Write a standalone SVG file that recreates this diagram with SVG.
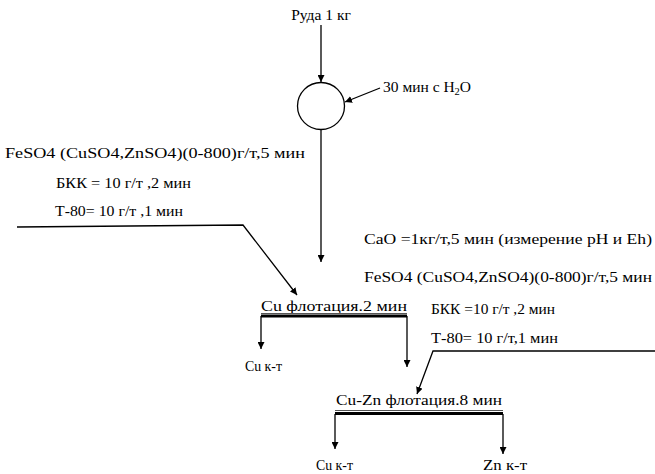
<svg xmlns="http://www.w3.org/2000/svg" width="655" height="474" viewBox="0 0 655 474">
<defs>
<marker id="ah" viewBox="0 0 10 10" refX="10" refY="5" markerWidth="7" markerHeight="7" markerUnits="userSpaceOnUse" orient="auto">
<path d="M0,0 L10,5 L0,10 z" fill="#000"/>
</marker>
</defs>
<style>
text{font-family:'Liberation Serif','DejaVu Serif',serif;font-size:15.5px;fill:#000}
.ln{stroke:#000;stroke-width:1.3;fill:none}
.ar{stroke:#000;stroke-width:1.3;fill:none;marker-end:url(#ah)}
.thin{stroke:#555;stroke-width:1}
.thick{stroke:#000;stroke-width:2.8}
</style>
<rect width="655" height="474" fill="#fff"/>
<g id="connectors">
<line class="ar" x1="321" y1="25" x2="321" y2="82"/>
<line class="ar" x1="380" y1="88" x2="345" y2="102"/>
<line class="ar" x1="321" y1="130" x2="321" y2="262"/>
<polyline class="ar" points="17,227 243,225 297,295"/>
<polyline class="ar" points="655,351 433,351 417,394"/>
<line class="ar" x1="261" y1="316" x2="261" y2="349"/>
<line class="ar" x1="407" y1="316" x2="407" y2="367"/>
<line class="ar" x1="335" y1="414" x2="335" y2="449"/>
<line class="ar" x1="503" y1="414" x2="503" y2="454"/>
</g>
<g id="feed"><text x="321" y="20" text-anchor="middle">Руда 1 кг</text></g>
<g id="mill"><circle cx="321" cy="106" r="23.5" class="ln"/></g>
<g id="water"><text x="383" y="92">30 мин с H<tspan font-size="10.5" dy="3">2</tspan><tspan dy="-3">O</tspan></text></g>
<g id="reagents1">
<text x="5" y="158" textLength="300" lengthAdjust="spacingAndGlyphs">FeSO4 (CuSO4,ZnSO4)(0-800)г/т,5 мин</text>
<text x="56" y="188" textLength="135" lengthAdjust="spacingAndGlyphs">БКК = 10 г/т ,2 мин</text>
<text x="55" y="216" textLength="128" lengthAdjust="spacingAndGlyphs">Т-80= 10 г/т ,1 мин</text>
</g>
<g id="reagents2">
<text x="364" y="244" textLength="288" lengthAdjust="spacingAndGlyphs">CaO =1кг/т,5 мин (измерение pH и Eh)</text>
<text x="364" y="282" textLength="288" lengthAdjust="spacingAndGlyphs">FeSO4 (CuSO4,ZnSO4)(0-800)г/т,5 мин</text>
<text x="431" y="314" textLength="124" lengthAdjust="spacingAndGlyphs">БКК =10 г/т ,2 мин</text>
<text x="431" y="343" textLength="127" lengthAdjust="spacingAndGlyphs">Т-80= 10 г/т,1 мин</text>
</g>
<g id="cu-flotation">
<text x="261" y="311" textLength="146" lengthAdjust="spacingAndGlyphs">Cu флотация.2 мин</text>
<line class="thin" x1="261" y1="313.5" x2="407" y2="313.5"/>
<line class="thick" x1="261" y1="316" x2="407" y2="316"/>
</g>
<g id="cu-conc1"><text x="245" y="371" textLength="37" lengthAdjust="spacingAndGlyphs">Cu к-т</text></g>
<g id="cuzn-flotation">
<text x="336" y="405" textLength="166" lengthAdjust="spacingAndGlyphs">Cu-Zn флотация.8 мин</text>
<line class="thin" x1="335" y1="410.5" x2="503" y2="410.5"/>
<line class="thick" x1="335" y1="413.5" x2="503" y2="413.5"/>
</g>
<g id="cu-conc2"><text x="316" y="470" textLength="37" lengthAdjust="spacingAndGlyphs">Cu к-т</text></g>
<g id="zn-conc"><text x="483" y="470" textLength="44" lengthAdjust="spacingAndGlyphs">Zn к-т</text></g>
</svg>
